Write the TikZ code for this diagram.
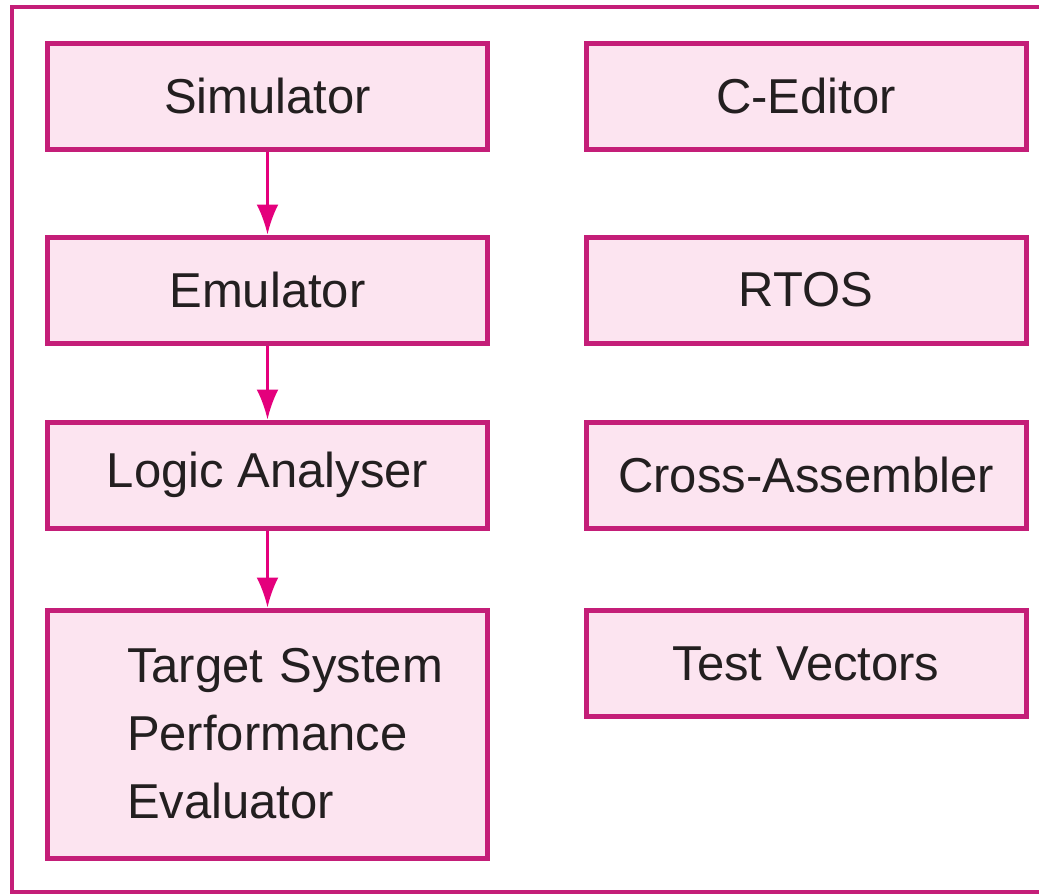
\documentclass[tikz,border=0pt]{standalone}
\usepackage{fontspec}
\setmainfont{Liberation Sans}
\usetikzlibrary{arrows.meta}
\definecolor{boxline}{RGB}{196,30,120}
\definecolor{boxfill}{RGB}{252,228,240}
\definecolor{arrowpink}{RGB}{228,0,124}
\definecolor{ink}{RGB}{35,31,32}

\begin{document}
\begin{tikzpicture}[x=.5pt,y=-.5pt,
  tool/.style={draw=boxline,fill=boxfill,line width=2.5pt,text=ink,inner sep=0pt,
    minimum width=220pt,minimum height=53pt,font=\fontsize{24.5}{34}\selectfont},
  flow/.style={arrowpink,line width=1.5pt,-{Latex[length=15pt,width=11pt]}}]
  \useasboundingbox (0,0) rectangle (1039,894);
  \draw[boxline,line width=2pt] (1060,7) -- (12,7) -- (12,892) -- (1060,892);
  % left column: the chain
  \node[tool] (sim) at (267.5,96) {Simulator};
  \node[tool] (emu) at (267.5,290) {Emulator};
  \node[tool] (logic) at (267.5,475) {Logic Analyser};
  \node[tool,minimum height=124pt,text width=140.5pt,align=left] (target) at (267.5,734)
    {\mbox{Target System}\\Performance\\Evaluator};
  \draw[flow] (sim.south) -- (emu.north);
  \draw[flow] (emu.south) -- (logic.north);
  \draw[flow] (logic.south) -- (target.north);
  % right column
  \node[tool] (cedit) at (806,96) {C-Editor};
  \node[tool] (rtos) at (806,290) {RTOS};
  \node[tool] (cross) at (806,475) {Cross-Assembler};
  \node[tool] (test) at (806,663.5) {Test Vectors};
\end{tikzpicture}
\end{document}
